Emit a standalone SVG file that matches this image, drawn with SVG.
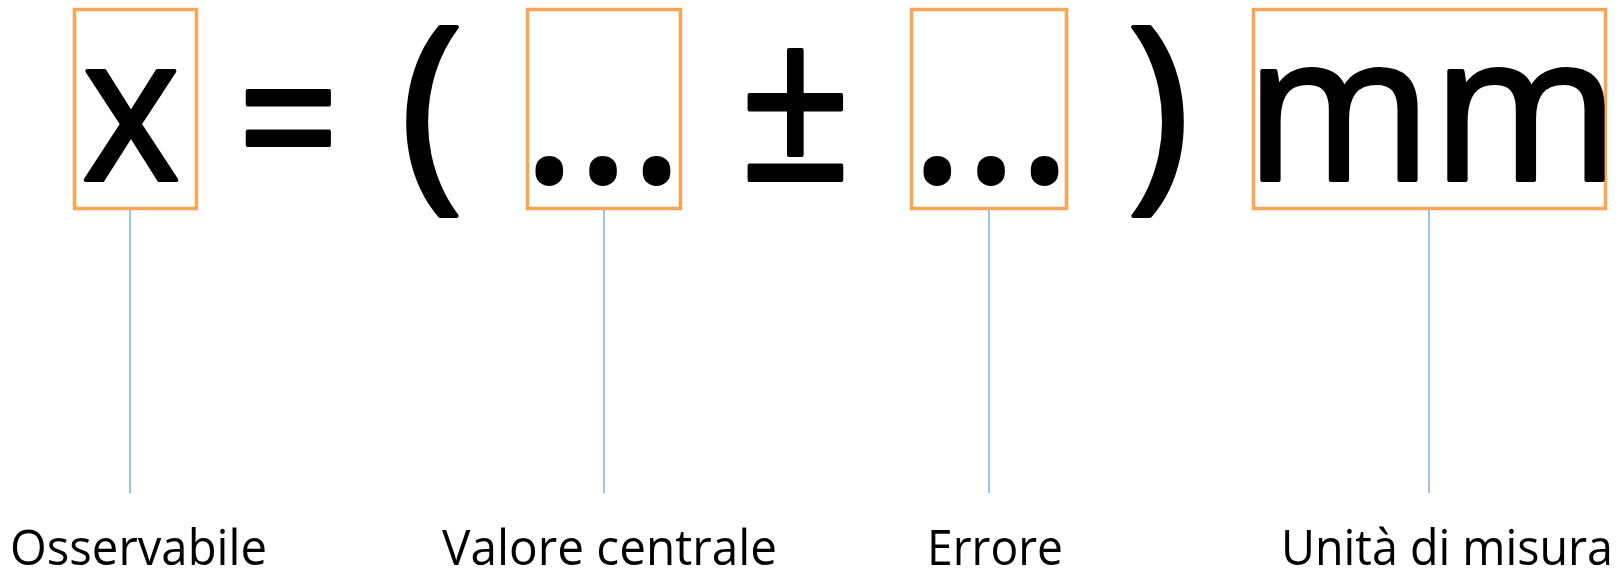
<svg xmlns="http://www.w3.org/2000/svg" width="1621" height="572" viewBox="0 0 1621 572">
<style>
.box{fill:none;stroke:#F8A555;stroke-width:3.5}
.conn line{stroke:#5B9BD5;stroke-width:1.2}
.big{font-family:"Open Sans","Noto Sans",sans-serif;font-size:204px;font-weight:400;fill:#000;stroke:#000;stroke-width:4;stroke-linejoin:round}
.lbl{font-family:"Open Sans","Noto Sans",sans-serif;font-size:50px;fill:#000}
</style>
<rect width="1621" height="572" fill="#fff"/>
<g id="symbols">
<text class="big" x="288.5" y="190" text-anchor="middle" textLength="102" lengthAdjust="spacingAndGlyphs">=</text>
<text class="big" x="431.5" y="182" text-anchor="middle" style="font-size:217px">(</text>
<text class="big" x="795.5" y="180" text-anchor="middle" style="font-size:219px" textLength="112" lengthAdjust="spacingAndGlyphs">±</text>
<text class="big" x="1158.5" y="182" text-anchor="middle" style="font-size:217px">)</text>
</g>
<g id="node-osservabile">
<rect class="box" x="74.5" y="9.5" width="122" height="199"/>
<text class="big" x="131" y="180" text-anchor="middle" textLength="98" lengthAdjust="spacingAndGlyphs">x</text>
<text class="lbl" x="10" y="565" textLength="257" lengthAdjust="spacingAndGlyphs">Osservabile</text>
</g>
<g id="node-valore">
<rect class="box" x="527.5" y="9.5" width="153" height="199"/>
<text class="big" x="603" y="181" text-anchor="middle">...</text>
<text class="lbl" x="442" y="565" textLength="335" lengthAdjust="spacingAndGlyphs">Valore centrale</text>
</g>
<g id="node-errore">
<rect class="box" x="911.5" y="9.5" width="155" height="199"/>
<text class="big" x="991" y="181" text-anchor="middle">...</text>
<text class="lbl" x="927" y="565" textLength="136" lengthAdjust="spacingAndGlyphs">Errore</text>
</g>
<g id="node-unita">
<rect class="box" x="1253.5" y="9.5" width="352" height="199"/>
<text class="big" x="1432" y="180" text-anchor="middle" textLength="374" lengthAdjust="spacingAndGlyphs">mm</text>
<text class="lbl" x="1281" y="565" textLength="332" lengthAdjust="spacingAndGlyphs">Unità di misura</text>
</g>
<g id="connectors" class="conn">
<line x1="130" y1="210" x2="130" y2="493"/>
<line x1="604" y1="210" x2="604" y2="493"/>
<line x1="989" y1="210" x2="989" y2="493"/>
<line x1="1429" y1="210" x2="1429" y2="493"/>
</g>
</svg>
